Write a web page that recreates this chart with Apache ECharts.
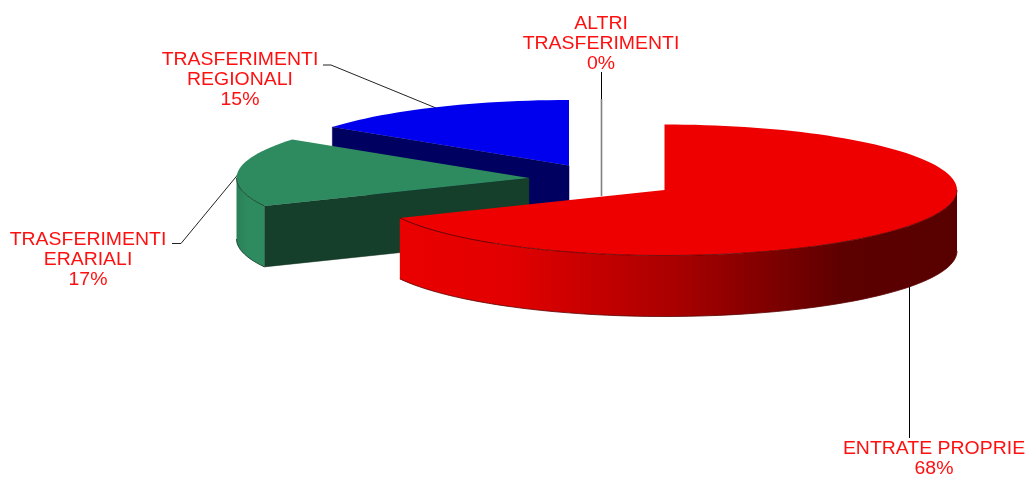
<!DOCTYPE html>
<html><head><meta charset="utf-8">
<style>html,body{margin:0;padding:0;background:#fff}#c{width:1029px;height:478px}</style>
<script src="https://cdn.jsdelivr.net/npm/echarts@6/dist/echarts.min.js"></script>
</head><body><div id="c"></div>
<script>
// Data, in clockwise pie order starting at 12 o'clock
const pieOrder = ['ENTRATE PROPRIE','TRASFERIMENTI ERARIALI','TRASFERIMENTI REGIONALI','ALTRI TRASFERIMENTI'];
const pieValues = [68,17,15,0];
const labelLines = [['ENTRATE PROPRIE'],['TRASFERIMENTI','ERARIALI'],['TRASFERIMENTI','REGIONALI'],['ALTRI','TRASFERIMENTI']];

// Layout and style, separate from the values
const RX=292.5, RY=65.5, DEPTH=61;
const centers=[[664.5,190],[529,178],[569,165.5],[569,165.5]];
const labelPos=[[934,459.5],[88,260.5],[240,80.5],[601,44]];
const leaders=[
  [{pts:[[909.5,283],[909.5,438]],c:'#000',w:1}],
  [{pts:[[172,243.5],[181,243.5],[240,172]],c:'#222',w:1}],
  [{pts:[[323,65],[331,65],[436,108]],c:'#222',w:1}],
  [{pts:[[601.5,72],[601.5,99]],c:'#000',w:1},{pts:[[601.5,99],[601.5,196]],c:'#808080',w:1.6}]
];
const topColors=['#EE0000','#2E8B5F','#0000EE','#000000'];
const faceColors=['#7a0000','#153F2A','#000060','#000000'];
const wallFill=[
  [[0,'#EA0000'],[0.2,'#E20000'],[0.5,'#A80000'],[0.8,'#5C0000'],[1,'#580000']],
  [[0,'#2A8058'],[0.4,'#2E8B5F'],[1,'#2E8B5F']],
  [[0,'#000060'],[1,'#000060']],
  [[0,'#000'],[1,'#000']]
];
const rimColor=['#5a0000','#123524','#000040','#000'];
const FONT='18px "Liberation Sans"', LINE=20, SX=1.08;

const total=pieValues.reduce((a,b)=>a+b,0);
const pt=(c,deg,dy)=>{const r=deg*Math.PI/180;return [c[0]+RX*Math.sin(r),c[1]-RY*Math.cos(r)+(dy||0)];};
function arc(c,a,b,dy){const n=Math.max(1,Math.ceil(Math.abs(b-a)/2));const out=[];for(let i=0;i<=n;i++)out.push(pt(c,a+(b-a)*i/n,dy));return out;}

function renderItem(params,api){
  // paint back to front: last pie item first
  const i=pieOrder.length-1-params.dataIndex;
  const value=api.value(0);
  let start=0;for(let k=0;k<i;k++)start+=pieValues[k]/total*360;
  const end=start+value/total*360;
  const c=centers[i],kids=[];
  leaders[i].forEach(l=>{kids.push({type:'polyline',shape:{points:l.pts},style:{stroke:l.c,lineWidth:l.w,fill:null},silent:true});});
  if(value>0){
    // cut faces turned to the viewer
    [[start,start-90],[end,end+90]].forEach(([ang,n])=>{
      if(Math.cos(n*Math.PI/180)<-0.001){
        const p=pt(c,ang);
        kids.push({type:'polygon',shape:{points:[c,p,[p[0],p[1]+DEPTH],[c[0],c[1]+DEPTH]]},style:{fill:faceColors[i],stroke:rimColor[i],lineWidth:0.5}});
      }
    });
    // outer wall: the front half of the rim
    const w0=Math.max(start,90),w1=Math.min(end,270);
    if(w1>w0){
      const top=arc(c,w0,w1,0),bot=arc(c,w0,w1,DEPTH).reverse();
      kids.push({type:'polygon',shape:{points:top.concat(bot)},style:{
        fill:new echarts.graphic.LinearGradient(0,0,1,0,wallFill[i].map(s=>({offset:s[0],color:s[1]}))),
        stroke:null}});
      kids.push({type:'polyline',shape:{points:bot},style:{stroke:rimColor[i],lineWidth:0.8,fill:null}});
    }
    // top face
    kids.push({type:'polygon',shape:{points:[c].concat(arc(c,start,end,0))},style:{fill:topColors[i],stroke:null}});
    if(w1>w0)kids.push({type:'polyline',shape:{points:arc(c,w0,w1,0)},style:{stroke:rimColor[i],lineWidth:0.8,fill:null}});
  }
  const pct=Math.round(value/total*100)+'%';
  kids.push({type:'text',x:labelPos[i][0],y:labelPos[i][1],scaleX:SX,silent:true,style:{
    text:labelLines[i].concat([pct]).join('\n'),font:FONT,lineHeight:LINE,fill:'#FF1010',align:'center',verticalAlign:'middle'}});
  return {type:'group',children:kids};
}

const chart=echarts.init(document.getElementById('c'),null,{renderer:'canvas'});
chart.setOption({
  animation:false,backgroundColor:'#fff',
  series:[{type:'custom',coordinateSystem:'none',renderItem,silent:true,
    data:pieValues.slice().reverse().map((v,idx)=>({name:pieOrder[pieOrder.length-1-idx],value:[v]}))}]
});
</script></body></html>
